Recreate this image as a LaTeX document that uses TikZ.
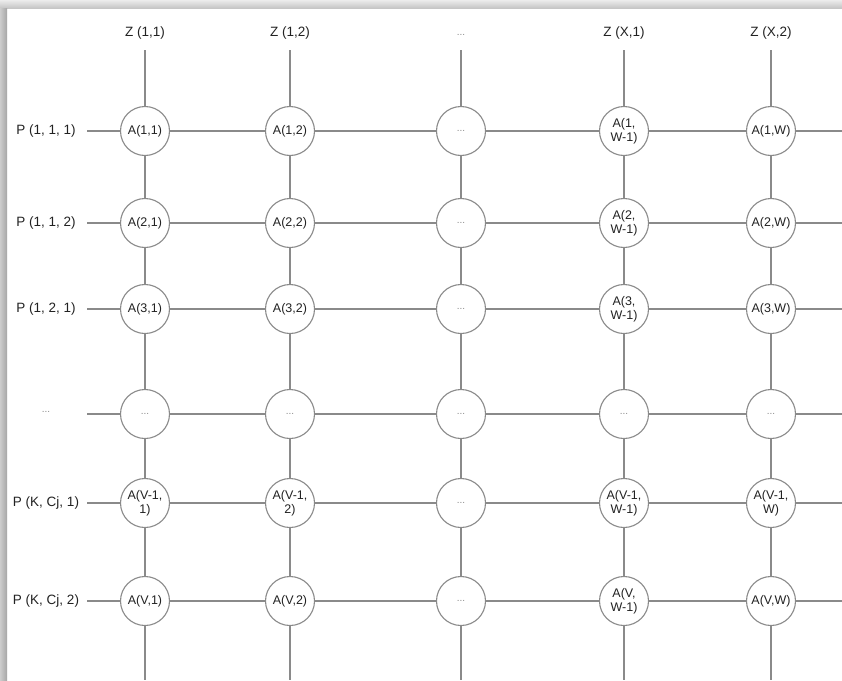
\documentclass[tikz,border=0pt]{standalone}
\usepackage{fontspec}
\setmainfont{Liberation Sans}
\definecolor{linegray}{HTML}{8A8A8A}
\definecolor{txt}{HTML}{222222}
\begin{document}
\begin{tikzpicture}[x=1pt,y=-1pt,
  cell/.style={circle,draw=linegray,line width=1.1pt,fill=white,minimum size=49pt,inner sep=0pt,
    font=\fontsize{12.5}{14}\selectfont,text=txt,align=center},
  dotcell/.style={cell,font=\fontsize{10}{10}\selectfont,text=black!45},
  lab/.style={font=\fontsize{13.5}{16}\selectfont,text=txt,inner sep=0pt},
  dotlab/.style={font=\fontsize{10}{10}\selectfont,text=black!45,inner sep=0pt},
  wire/.style={draw=linegray,line width=1.1pt}]
\useasboundingbox (0,0) rectangle (842,680);
\fill[white] (0,0) rectangle (842,680);
\shade[top color=gray!15,bottom color=gray!45] (0,0) rectangle (842,8);
\shade[left color=gray!40,right color=gray!70] (0,8) rectangle (7,680);

% column headers
\node[lab] (z1) at (145,33) {Z (1,1)};
\node[lab] (z2) at (290,33) {Z (1,2)};
\node[dotlab] (z3) at (461,35) {...};
\node[lab] (z4) at (624,33) {Z (X,1)};
\node[lab] (z5) at (771,33) {Z (X,2)};
\foreach \c/\x in {1/145,2/290,3/461,4/624,5/771}{
  \coordinate (t\c) at (\x,50);
  \coordinate (b\c) at (\x,680);
}

% row labels
\node[lab] (p1) at (46,131) {P (1, 1, 1)};
\node[lab] (p2) at (46,223) {P (1, 1, 2)};
\node[lab] (p3) at (46,309) {P (1, 2, 1)};
\node[dotlab] (p4) at (46,412) {...};
\node[lab] (p5) at (46,503) {P (K, Cj, 1)};
\node[lab] (p6) at (46,601) {P (K, Cj, 2)};
\foreach \r/\y in {1/131,2/223,3/309,4/414,5/503,6/601}{
  \coordinate (l\r) at (87,\y);
  \coordinate (e\r) at (842,\y);
}

% cells
\node[cell] (a11) at (145,131) {A(1,1)};
\node[cell] (a12) at (290,131) {A(1,2)};
\node[dotcell] (a13) at (461,131) {...};
\node[cell] (a14) at (624,131) {A(1,\\W-1)};
\node[cell] (a15) at (771,131) {A(1,W)};

\node[cell] (a21) at (145,223) {A(2,1)};
\node[cell] (a22) at (290,223) {A(2,2)};
\node[dotcell] (a23) at (461,223) {...};
\node[cell] (a24) at (624,223) {A(2,\\W-1)};
\node[cell] (a25) at (771,223) {A(2,W)};

\node[cell] (a31) at (145,309) {A(3,1)};
\node[cell] (a32) at (290,309) {A(3,2)};
\node[dotcell] (a33) at (461,309) {...};
\node[cell] (a34) at (624,309) {A(3,\\W-1)};
\node[cell] (a35) at (771,309) {A(3,W)};

\node[dotcell] (a41) at (145,414) {...};
\node[dotcell] (a42) at (290,414) {...};
\node[dotcell] (a43) at (461,414) {...};
\node[dotcell] (a44) at (624,414) {...};
\node[dotcell] (a45) at (771,414) {...};

\node[cell] (a51) at (145,503) {A(V-1,\\1)};
\node[cell] (a52) at (290,503) {A(V-1,\\2)};
\node[dotcell] (a53) at (461,503) {...};
\node[cell] (a54) at (624,503) {A(V-1,\\W-1)};
\node[cell] (a55) at (771,503) {A(V-1,\\W)};

\node[cell] (a61) at (145,601) {A(V,1)};
\node[cell] (a62) at (290,601) {A(V,2)};
\node[dotcell] (a63) at (461,601) {...};
\node[cell] (a64) at (624,601) {A(V,\\W-1)};
\node[cell] (a65) at (771,601) {A(V,W)};

% vertical wires
\foreach \c in {1,...,5}{
  \draw[wire] (t\c) -- (a1\c);
  \draw[wire] (a1\c) -- (a2\c);
  \draw[wire] (a2\c) -- (a3\c);
  \draw[wire] (a3\c) -- (a4\c);
  \draw[wire] (a4\c) -- (a5\c);
  \draw[wire] (a5\c) -- (a6\c);
  \draw[wire] (a6\c) -- (b\c);
}
% horizontal wires
\foreach \r in {1,...,6}{
  \draw[wire] (l\r) -- (a\r1);
  \draw[wire] (a\r1) -- (a\r2);
  \draw[wire] (a\r2) -- (a\r3);
  \draw[wire] (a\r3) -- (a\r4);
  \draw[wire] (a\r4) -- (a\r5);
  \draw[wire] (a\r5) -- (e\r);
}
\end{tikzpicture}
\end{document}
